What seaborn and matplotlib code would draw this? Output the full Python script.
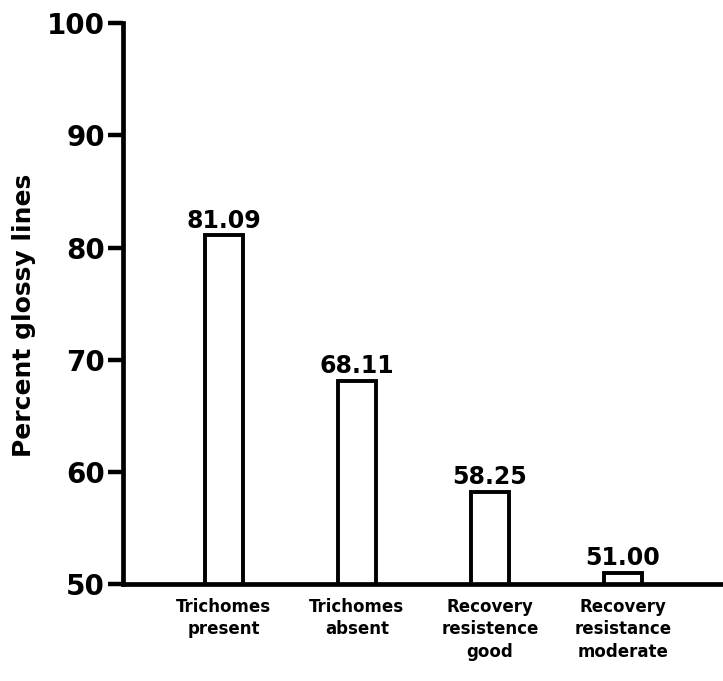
import matplotlib
matplotlib.use("Agg")
import matplotlib.pyplot as plt
import seaborn as sns
import pandas as pd

categories = [
    "Trichomes\npresent",
    "Trichomes\nabsent",
    "Recovery\nresistence\ngood",
    "Recovery\nresistance\nmoderate",
]
percent_glossy = [81.09, 68.11, 58.25, 51.00]
y_ticks = [50, 60, 70, 80, 90, 100]

df = pd.DataFrame({"group": categories, "percent": percent_glossy})

sns.set_theme(style="white")
plt.rcParams["font.family"] = ["DejaVu Sans"]
plt.rcParams["font.weight"] = "bold"

fig = plt.figure(figsize=(7.23, 6.81), dpi=100)
ax = fig.add_axes([0.170, 0.142, 0.830, 0.824])

sns.barplot(data=df, x="group", y="percent", ax=ax, color="white",
            edgecolor="black", linewidth=2.8, width=0.29, errorbar=None,
            saturation=1)

ax.bar_label(ax.containers[0], fmt="%.2f", padding=2, fontsize=17,
             fontweight="bold", color="black")

ax.set_ylim(50, 100)
ax.set_xlim(-0.759, 3.752)
ax.set_yticks(y_ticks)
ax.set_yticklabels([str(t) for t in y_ticks], fontsize=20, fontweight="bold",
                   color="black")
ax.tick_params(axis="y", direction="out", length=11, width=3.2, color="black",
               pad=2, left=True)
ax.tick_params(axis="x", length=0, pad=10)
for lbl in ax.get_xticklabels():
    lbl.set_fontsize(12)
    lbl.set_fontweight("bold")
    lbl.set_color("black")
    lbl.set_linespacing(1.3)

ax.set_xlabel("")
ax.set_ylabel("Percent glossy lines", fontsize=18, fontweight="bold",
              color="black", va="center")
ax.yaxis.set_label_coords(-0.165, 0.48)

for side in ["top", "right"]:
    ax.spines[side].set_visible(False)
for side in ["left", "bottom"]:
    ax.spines[side].set_visible(True)
    ax.spines[side].set_linewidth(3.4)
    ax.spines[side].set_color("black")

fig.savefig("out.png", dpi=100, facecolor="white")
